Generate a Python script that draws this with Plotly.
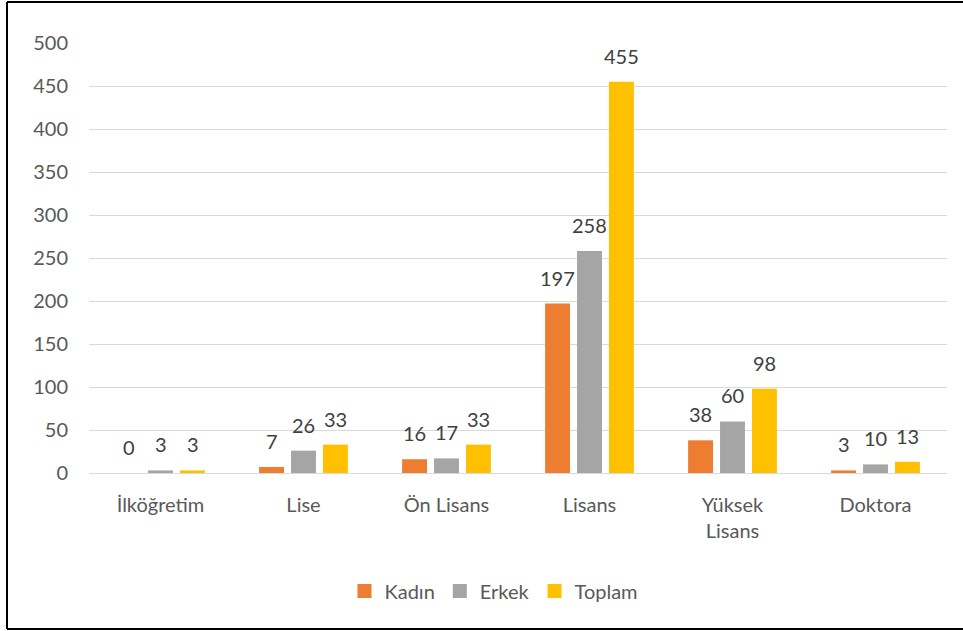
import plotly.graph_objects as go

categories = ["İlköğretim", "Lise", "Ön Lisans", "Lisans", "Yüksek<br>Lisans", "Doktora"]
kadin = [0, 7, 16, 197, 38, 3]
erkek = [3, 26, 17, 258, 60, 10]
toplam = [3, 33, 33, 455, 98, 13]
y_ticks = [0, 50, 100, 150, 200, 250, 300, 350, 400, 450, 500]

FONT = "Lato"
FS = 20
series = [("Kadın", kadin, "#ED7D31"), ("Erkek", erkek, "#A5A5A5"), ("Toplam", toplam, "#FFC000")]

fig = go.Figure()
for name, vals, col in series:
    fig.add_trace(go.Bar(
        name=name, x=categories, y=vals, marker=dict(color=col, line=dict(width=0)),
        showlegend=False, cliponaxis=False,
    ))
for name, vals, col in series:
    fig.add_trace(go.Scatter(
        name=name, x=[None], y=[None], mode="markers",
        marker=dict(symbol="square", size=14, color=col),
    ))

# data labels, positioned through the axes at each bar's value
offsets = [-32, 0, 32]
for (name, vals, col), dx in zip(series, offsets):
    for c, v in zip(categories, vals):
        fig.add_annotation(x=c, y=v, text=str(v), showarrow=False, xshift=dx, yshift=12,
                           yanchor="bottom", font=dict(family=FONT, size=FS, color="#404040"))

W, H = 963, 631
L, R, T, B = 89, 16, 43, 158
pw, ph = W - L - R, H - T - B

def px(x):
    return (x - L) / pw

def py(y):
    return (H - B - y) / ph

border = dict(color="#000000", width=2)
shapes = [
    dict(type="line", xref="paper", yref="paper", x0=px(7), x1=px(980), y0=py(2), y1=py(2), line=border),
    dict(type="line", xref="paper", yref="paper", x0=px(7), x1=px(980), y0=py(629), y1=py(629), line=border),
    dict(type="line", xref="paper", yref="paper", x0=px(7), x1=px(7), y0=py(629), y1=py(2), line=border),
]

fig.update_layout(
    width=W, height=H,
    margin=dict(l=L, r=R, t=T, b=B, pad=0),
    paper_bgcolor="white", plot_bgcolor="white",
    barmode="group", bargap=0.33, bargroupgap=0.22,
    font=dict(family=FONT, size=FS, color="#595959"),
    showlegend=True,
    legend=dict(orientation="h", x=px(494), xanchor="center", y=py(591), yanchor="middle",
                font=dict(family=FONT, size=FS, color="#595959"), itemwidth=30,
                traceorder="normal"),
    xaxis=dict(showgrid=False, showline=False, ticks="", ticklabelstandoff=18,
               tickfont=dict(size=FS, color="#595959")),
    yaxis=dict(range=[0, 500], tickvals=y_ticks, showgrid=True, gridcolor="#D9D9D9", gridwidth=1,
               zeroline=True, zerolinecolor="#D9D9D9", zerolinewidth=1, showline=False, ticks="",
               ticklabelstandoff=20, tickfont=dict(size=FS, color="#595959")),
    shapes=shapes,
)

fig.write_html("out.html", config={"displayModeBar": False},
               post_script="document.body.style.margin='0';document.body.style.padding='0';")
